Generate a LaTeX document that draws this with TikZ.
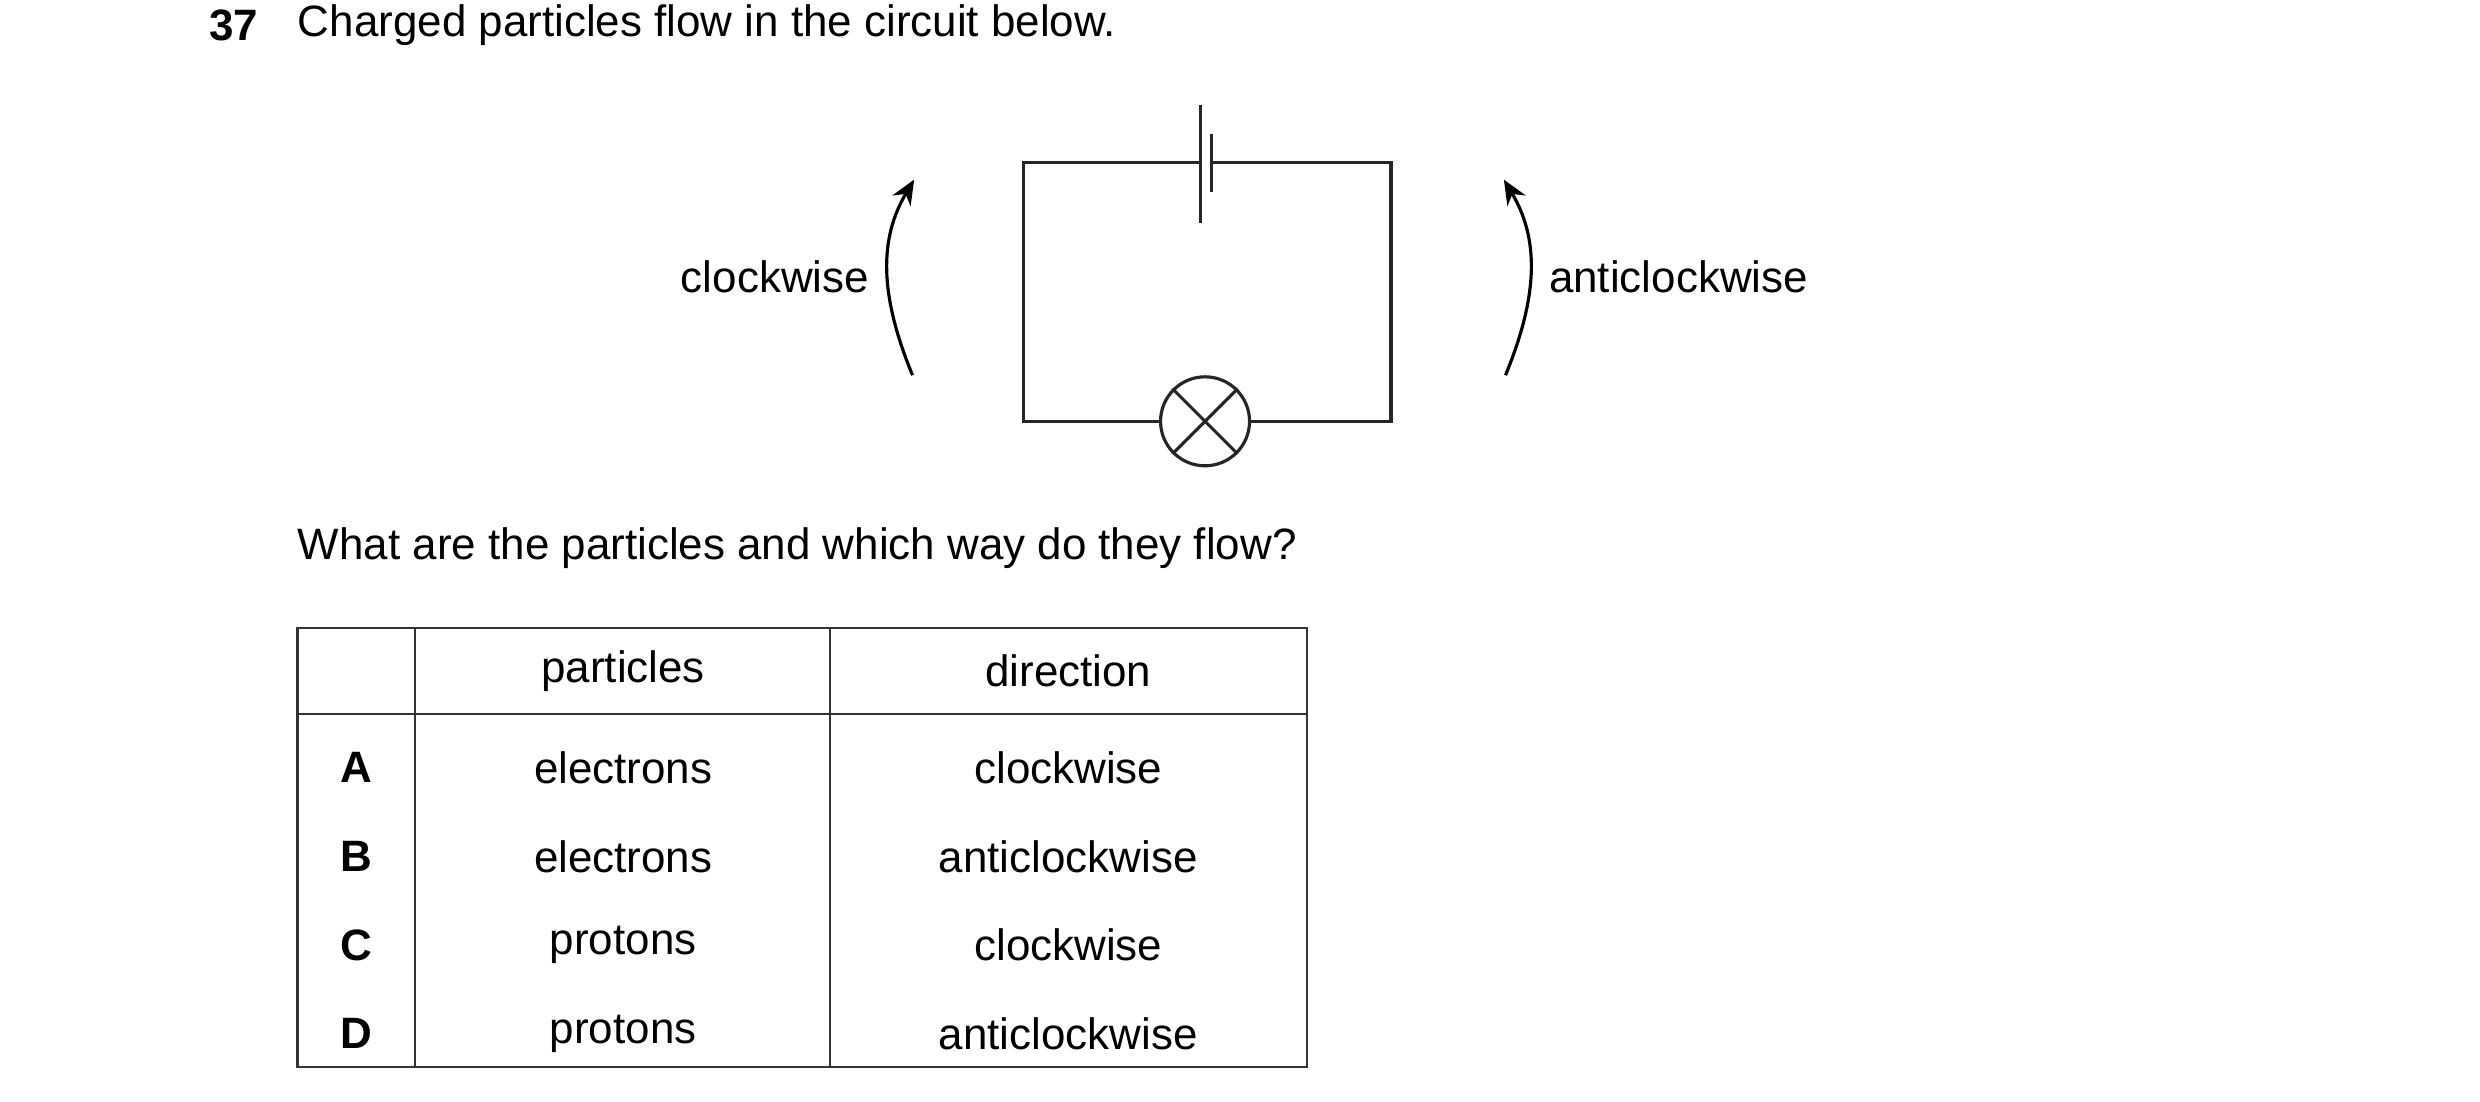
\documentclass[tikz,border=0pt]{standalone}
\usepackage{fontspec}
\setmainfont{Liberation Sans}
\usetikzlibrary{arrows.meta}
\tikzset{
  wire/.style={line width=0.9pt, color=black!85},
  grid/.style={line width=0.7pt, color=black!80},
  txt/.style={inner sep=0pt, font=\fontsize{12.5}{15}\selectfont},
  flow/.style={line width=0.9pt, -{Stealth[length=7pt,width=6pt]}}
}
\begin{document}
\begin{tikzpicture}[x=0.0159cm, y=-0.0159cm]
  \useasboundingbox (0,0) rectangle (1560,693);
  % question
  \node[txt, font=\fontsize{12.5}{15}\selectfont\bfseries] (num) at (147,16) {37};
  \node[txt, anchor=west] (title) at (187,16) {Charged particles flow in the circuit below.};
  % circuit
  \coordinate (tl) at (644,102); \coordinate (tr) at (875,102);
  \coordinate (bl) at (644,265); \coordinate (br) at (875,265);
  \coordinate (pa) at (755,102); \coordinate (pb) at (762,102);
  \node[draw, wire, circle, minimum size=56\pgflinewidth*0+0.89cm, inner sep=0pt] (lamp) at (758,265) {};
  \draw[wire] (pa) -- (tl) -- (bl) -- (lamp.west);
  \draw[wire] (pb) -- (tr) -- (br) -- (lamp.east);
  \draw[wire] (755,66) -- (755,140);
  \draw[wire] (762,84) -- (762,121);
  \draw[wire] (lamp.north west) -- (lamp.south east);
  \draw[wire] (lamp.north east) -- (lamp.south west);
  % directions
  \coordinate (cws) at (574,236); \coordinate (cwe) at (575,113);
  \coordinate (aws) at (947,236); \coordinate (awe) at (946,113);
  \draw[flow] (cws) .. controls (553,185) and (553,150) .. (cwe);
  \draw[flow] (aws) .. controls (968,185) and (968,150) .. (awe);
  \node[txt, anchor=east] (cw) at (547,174) {clockwise};
  \node[txt, anchor=west] (acw) at (974,174) {anticlockwise};
  \node[txt, anchor=west] (ask) at (187,345) {What are the particles and which way do they flow?};
  % table
  \draw[grid] (187,395) rectangle (822,671);
  \draw[grid] (187,449) -- (822,449);
  \draw[grid] (261,395) -- (261,671);
  \draw[grid] (522,395) -- (522,671);
  \node[txt] (hp) at (392,422) {particles};
  \node[txt] (hd) at (672,422) {direction};
  \foreach \k/\p/\d [count=\i] in {A/electrons/clockwise, B/electrons/anticlockwise,
      C/protons/clockwise, D/protons/anticlockwise}
  {
    \pgfmathsetmacro{\ry}{483+55.7*(\i-1)}
    \node[txt, font=\fontsize{12.5}{15}\selectfont\bfseries] (key\k) at (224,\ry) {\k};
    \node[txt] (part\k) at (392,\ry) {\p};
    \node[txt] (dir\k) at (672,\ry) {\d};
  }
\end{tikzpicture}
\end{document}
